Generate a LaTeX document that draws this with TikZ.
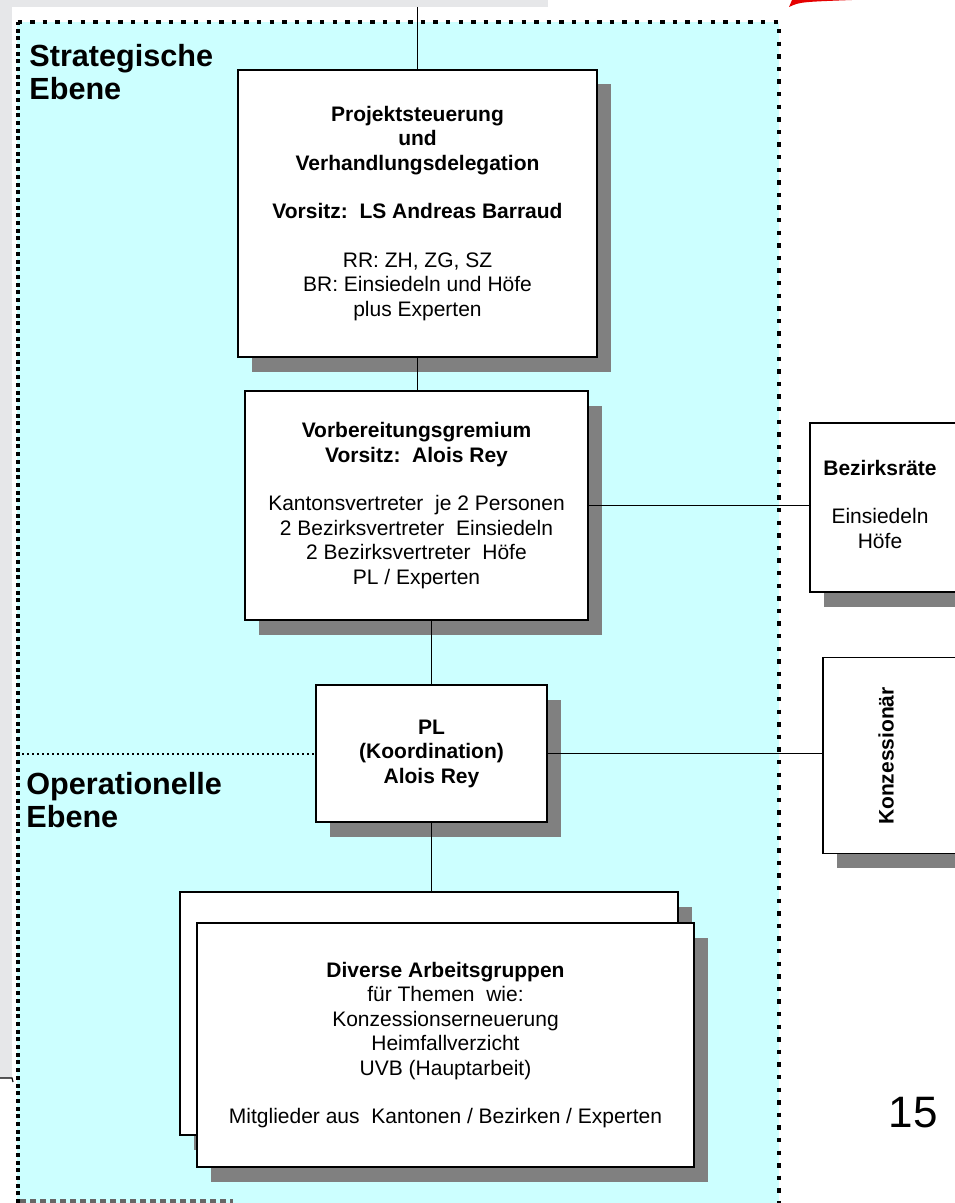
\documentclass[tikz,border=0pt]{standalone}
\usepackage{fontspec}
\setmainfont{Liberation Sans}
\usetikzlibrary{shadows}
\definecolor{ebene}{HTML}{CCFFFF}
\definecolor{schatten}{HTML}{808080}
\definecolor{randgrau}{HTML}{E6E7E9}
\begin{document}
\begin{tikzpicture}[x=0.5pt,y=-0.5pt,
    kasten/.style={draw, line width=0.75pt, fill=white, inner sep=0pt, align=center,
      font=\fontsize{10.5}{12.25}\selectfont,
      drop shadow={shadow xshift=6.75pt, shadow yshift=-7.25pt, fill=schatten, opacity=1}},
    linie/.style={line width=0.75pt},
    ebenetext/.style={anchor=north west, inner sep=0pt, align=left,
      font=\fontsize{15.3}{16.5}\selectfont\bfseries}]
  \useasboundingbox (0,0) rectangle (954,1203);
  \fill[randgrau] (0,0) rectangle (548,7);
  \fill[randgrau] (0,0) rectangle (12,1078);
  \draw[line width=0.6pt] (0,1078) -- (12,1078) -- (13,1082);
  \fill[red!90!black] (789,7) .. controls (800,2) .. (852,0) -- (792,0) -- cycle;
  \fill[ebene] (17,22) rectangle (779,1203);
  \draw[line width=2pt, dash pattern=on 2pt off 1.85pt] (17.5,1203) -- (17.5,22);
  \draw[line width=2pt, dash pattern=on 2.2pt off 4.1pt] (17.5,22) -- (779,22) -- (779,1203);
  \draw[line width=2pt, black!60, dash pattern=on 3pt off 2pt] (20,1201) -- (233,1201);

  \node[ebenetext] (strat) at (29,44) {Strategische\\Ebene};
  \node[ebenetext] (oper) at (26,772) {Operationelle\\Ebene};

  \node[kasten, minimum width=179.5pt, minimum height=143.5pt] (steuer) at (417.5,213.5)
    {\textbf{Projektsteuerung}\\\textbf{und}\\\textbf{Verhandlungsdelegation}\\[12pt]
     \textbf{Vorsitz:\ \ LS Andreas Barraud}\\[12pt]
     RR: ZH, ZG, SZ\\BR: Einsiedeln und Höfe\\plus Experten};
  \node[kasten, minimum width=171.5pt, minimum height=114.5pt] (vorb) at (416.5,505.5)
    {\textbf{Vorbereitungsgremium}\\\textbf{Vorsitz:\ \ Alois Rey}\\[12pt]
     Kantonsvertreter\ \ je 2 Personen\\2 Bezirksvertreter\ \ Einsiedeln\\
     2 Bezirksvertreter\ \ Höfe\\PL / Experten};
  \node[kasten, minimum width=115.5pt, minimum height=68.5pt] (pl) at (431.5,753.5)
    {\textbf{PL}\\\textbf{(Koordination)}\\\textbf{Alois Rey}};
  \node[kasten, minimum width=85pt, minimum height=84.5pt] (bez) at (895,507.5) {};
  \node[align=center, inner sep=0pt, font=\fontsize{10.5}{12.25}\selectfont] (beztxt) at (880,504)
    {\textbf{Bezirksräte}\\[12pt]Einsiedeln\\Höfe};
  \node[kasten, minimum width=78pt, minimum height=98pt] (konz) at (901,755.5) {};
  \node[rotate=90, inner sep=0pt, font=\fontsize{10.5}{12.25}\selectfont\bfseries] (konztxt) at (886,756)
    {Konzessionär};
  \node[kasten, minimum width=249pt, minimum height=121.5pt] (ag0) at (429,1013.5) {};
  \node[kasten, minimum width=248.5pt, minimum height=122pt] (ag) at (445.5,1045)
    {\textbf{Diverse Arbeitsgruppen}\\für Themen\ \ wie:\\Konzessionserneuerung\\
     Heimfallverzicht\\UVB (Hauptarbeit)\\[12pt]
     Mitglieder aus\ \ Kantonen / Bezirken / Experten};

  \node[font=\fontsize{22}{22}\selectfont] (seite) at (913,1113) {15};

  \coordinate (oben) at (417.5,7);
  \coordinate (links) at (17,753.5);
  \draw[linie] (oben) -- (steuer.north);
  \draw[linie] (steuer.south) -- (steuer.south |- vorb.north);
  \draw[linie] (vorb.south -| pl.north) -- (pl.north);
  \draw[linie] (pl.south) -- (pl.south |- ag0.north);
  \draw[linie] (vorb.east) -- (vorb.east -| bez.west);
  \draw[linie] (pl.east) -- (pl.east -| konz.west);
  \draw[line width=1pt, dash pattern=on 1pt off 1.5pt] (links) -- (pl.west);
\end{tikzpicture}
\end{document}
